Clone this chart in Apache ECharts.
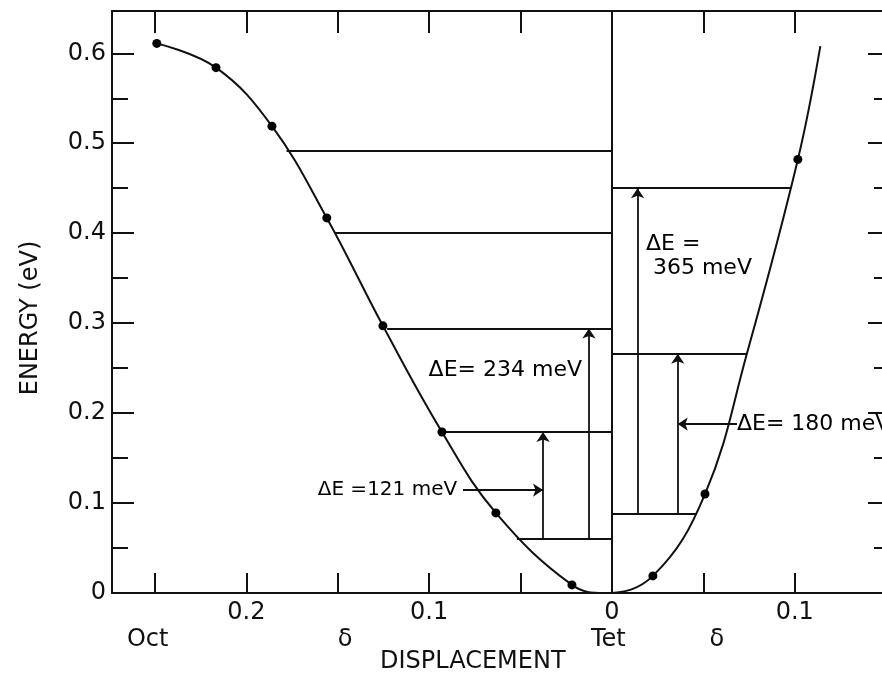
<!DOCTYPE html>
<html>
<head>
<meta charset="utf-8">
<script src="https://cdn.jsdelivr.net/npm/echarts@6/dist/echarts.min.js"></script>
<style>
html,body{margin:0;padding:0;background:#fff;}
#chart{width:882px;height:676px;}
</style>
</head>
<body>
<div id="chart"></div>
<script>
// ---- data ----
// signed displacement: negative = toward Oct, positive = other side of Tet
const curveS = [-0.249, -0.2166, -0.186, -0.156, -0.1253, -0.093, -0.0635, -0.0219, -0.004, 0.0224, 0.0509, 0.0738, 0.1017, 0.114];
const curveE = [0.611, 0.584, 0.519, 0.417, 0.297, 0.179, 0.089, 0.009, 0.0, 0.019, 0.110, 0.266, 0.482, 0.608];

const dotS = [-0.249, -0.2166, -0.186, -0.156, -0.1253, -0.093, -0.0635, -0.0219, 0.0224, 0.0509, 0.1017];
const dotE = [0.611, 0.584, 0.519, 0.417, 0.297, 0.179, 0.089, 0.009, 0.019, 0.110, 0.482];

const leftLevelE = [0.492, 0.400, 0.294, 0.179, 0.060];
const leftLevelStart = [-0.178, -0.1515, -0.123, -0.093, -0.052];
const rightLevelE = [0.450, 0.266, 0.088];
const rightLevelEnd = [0.0974, 0.0738, 0.0465];

const arrowS = [-0.0377, -0.0126, 0.014, 0.036];
const arrowFrom = [0.060, 0.060, 0.088, 0.088];
const arrowTo = [0.179, 0.294, 0.450, 0.266];

const pointerFromS = [-0.0815, 0.0684];
const pointerToS = [-0.0377, 0.036];
const pointerE = [0.1144, 0.1878];

const annoText = ['ΔE =121 meV', 'ΔE= 234 meV', 'ΔE =\n 365 meV', 'ΔE= 180 meV'];
const annoS = [-0.0847, -0.0164, 0.0186, 0.0684];
const annoE = [0.1144, 0.2478, 0.3744, 0.1878];

const xMajorTicks = [-0.25, -0.2, -0.15, -0.1, -0.05, 0, 0.05, 0.1];
const xLabelVals = [-0.2, -0.1, 0, 0.1];
const xLabelText = ['0.2', '0.1', '0', '0.1'];
const posLabelS = [-0.254, -0.146, -0.002, 0.0574];
const posLabelText = ['Oct', 'δ', 'Tet', 'δ'];
const yMajorTicks = [0, 0.1, 0.2, 0.3, 0.4, 0.5, 0.6];
const yLabelText = ['0', '0.1', '0.2', '0.3', '0.4', '0.5', '0.6'];
const yMinorTicks = [0.05, 0.15, 0.25, 0.35, 0.45, 0.55];

const X_MIN = -0.2735, X_MAX = 0.1521, Y_MIN = 0, Y_MAX = 0.647;

// ---- chart ----
const INK = '#111';
const FONT = 'DejaVu Sans';
function nearestText(vals, texts, v) {
  let bi = 0, bd = Infinity;
  vals.forEach((x, i) => { const d = Math.abs(x - v); if (d < bd) { bd = d; bi = i; } });
  return texts[bi];
}
const chart = echarts.init(document.getElementById('chart'), null, {renderer: 'canvas'});

const levelLines = [];
leftLevelE.forEach((e, i) => levelLines.push({coords: [[leftLevelStart[i], e], [0, e]]}));
rightLevelE.forEach((e, i) => levelLines.push({coords: [[0, e], [rightLevelEnd[i], e]]}));
levelLines.push({coords: [[0, Y_MIN], [0, Y_MAX]]});

const arrowLines = [];
arrowS.forEach((s, i) => arrowLines.push({coords: [[s, arrowFrom[i]], [s, arrowTo[i]]]}));
pointerE.forEach((e, i) => arrowLines.push({coords: [[pointerFromS[i], e], [pointerToS[i], e]]}));

const annoAlign = ['left', 'left', 'right', 'right']; // label side relative to anchor
const annoSize = [20, 22, 22, 22];

const xBase = {type: 'value', min: X_MIN, max: X_MAX, splitLine: {show: false}, gridIndex: 0};
const yBase = {type: 'value', min: Y_MIN, max: Y_MAX, splitLine: {show: false}, gridIndex: 0};
const axisLine = {show: true, onZero: false, lineStyle: {color: INK, width: 2}};
const noLine = {show: false, onZero: false};

const option = {
  backgroundColor: '#fff',
  animation: false,
  grid: {left: 112, width: 778, top: 11, height: 582, containLabel: false, outerBoundsMode: 'none'},
  xAxis: [
    Object.assign({}, xBase, {
      position: 'bottom', axisLine: axisLine,
      axisTick: {show: true, inside: true, length: 20, lineStyle: {color: INK, width: 2}, customValues: xMajorTicks},
      axisLabel: {show: true, customValues: xLabelVals, margin: 8, fontSize: 24, fontFamily: FONT, color: INK,
        formatter: v => nearestText(xLabelVals, xLabelText, v)}
    }),
    Object.assign({}, xBase, {
      position: 'top', axisLine: axisLine,
      axisTick: {show: true, inside: true, length: 22, lineStyle: {color: INK, width: 2}, customValues: xMajorTicks},
      axisLabel: {show: false}
    }),
    Object.assign({}, xBase, {
      position: 'bottom', axisLine: noLine, axisTick: {show: false},
      axisLabel: {show: true, customValues: posLabelS, margin: 35, fontSize: 24, fontFamily: FONT, color: INK,
        formatter: v => nearestText(posLabelS, posLabelText, v)}
    })
  ],
  yAxis: [
    Object.assign({}, yBase, {
      position: 'left', axisLine: axisLine,
      axisTick: {show: true, inside: true, length: 22, lineStyle: {color: INK, width: 2}, customValues: yMajorTicks},
      axisLabel: {show: true, customValues: yMajorTicks, margin: 6, fontSize: 24, fontFamily: FONT, color: INK,
        formatter: v => nearestText(yMajorTicks, yLabelText, v)}
    }),
    Object.assign({}, yBase, {
      position: 'left', axisLine: noLine,
      axisTick: {show: true, inside: true, length: 16, lineStyle: {color: INK, width: 2}, customValues: yMinorTicks},
      axisLabel: {show: false}
    }),
    Object.assign({}, yBase, {
      position: 'right', axisLine: axisLine,
      axisTick: {show: true, inside: true, length: 22, lineStyle: {color: INK, width: 2}, customValues: yMajorTicks},
      axisLabel: {show: false}
    }),
    Object.assign({}, yBase, {
      position: 'right', axisLine: noLine,
      axisTick: {show: true, inside: true, length: 16, lineStyle: {color: INK, width: 2}, customValues: yMinorTicks},
      axisLabel: {show: false}
    })
  ],
  graphic: [
    {type: 'text', left: 380, top: 650, style: {text: 'DISPLACEMENT', fontSize: 24, fontFamily: FONT, fill: INK}},
    {type: 'text', x: 31, y: 318, rotation: Math.PI / 2,
      style: {text: 'ENERGY (eV)', fontSize: 24, fontFamily: FONT, fill: INK, align: 'center', verticalAlign: 'middle'}}
  ],
  series: [
    {
      type: 'line', xAxisIndex: 0, yAxisIndex: 0,
      data: curveS.map((s, i) => [s, curveE[i]]),
      smooth: 0.4, showSymbol: false, symbol: 'none',
      lineStyle: {color: INK, width: 2}, z: 3
    },
    {
      type: 'scatter', xAxisIndex: 0, yAxisIndex: 0,
      data: dotS.map((s, i) => [s, dotE[i]]),
      symbolSize: 9, itemStyle: {color: '#000', opacity: 1}, z: 4
    },
    {
      type: 'lines', coordinateSystem: 'cartesian2d', xAxisIndex: 0, yAxisIndex: 0,
      data: levelLines, symbol: 'none',
      lineStyle: {color: INK, width: 2, opacity: 1}, z: 2
    },
    {
      type: 'lines', coordinateSystem: 'cartesian2d', xAxisIndex: 0, yAxisIndex: 0,
      data: arrowLines, symbol: ['none', 'arrow'], symbolSize: [7, 10],
      lineStyle: {color: INK, width: 1.8, opacity: 1}, z: 2
    },
    {
      type: 'scatter', xAxisIndex: 0, yAxisIndex: 0, clip: false,
      symbolSize: 0, silent: true, z: 5, itemStyle: {opacity: 1},
      data: annoText.map((t, i) => ({
        value: [annoS[i], annoE[i]],
        label: {show: true, formatter: t, position: annoAlign[i], distance: 0,
          fontSize: annoSize[i], fontFamily: FONT, color: '#000', opacity: 1, lineHeight: 24,
          align: annoAlign[i] === 'left' ? 'right' : 'left'}
      }))
    }
  ]
};
chart.setOption(option);
</script>
</body>
</html>
